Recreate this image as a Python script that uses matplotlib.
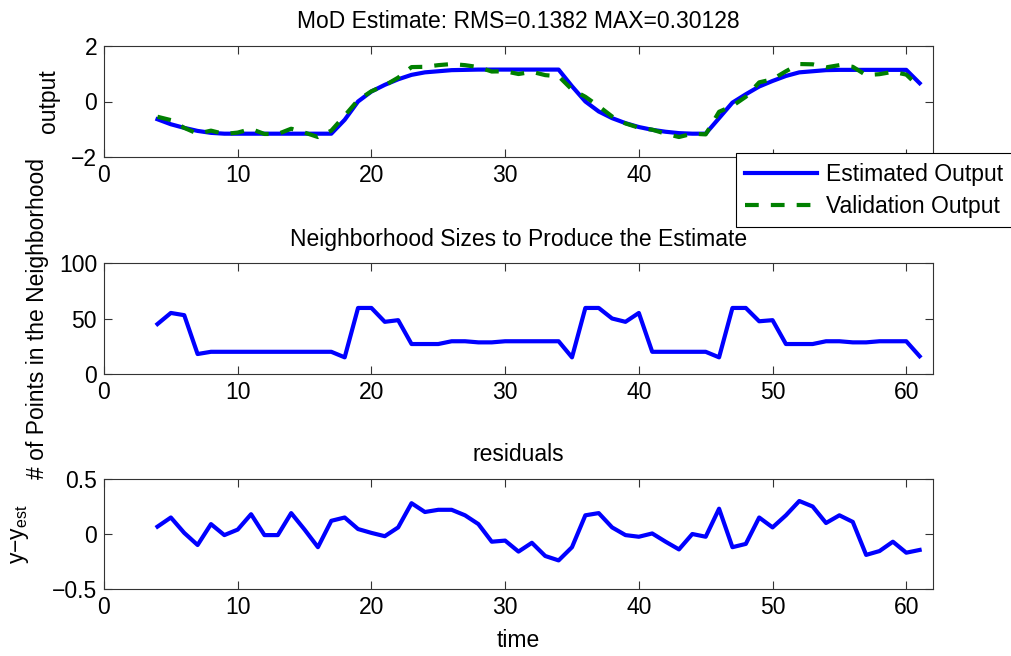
import matplotlib
matplotlib.use("Agg")
import matplotlib.pyplot as plt
import numpy as np

plt.rcParams['font.family'] = ['Liberation Sans', 'DejaVu Sans']
plt.rcParams['mathtext.fontset'] = 'custom'
plt.rcParams['mathtext.rm'] = 'Liberation Sans'
plt.rcParams['mathtext.it'] = 'Liberation Sans'

time = list(range(4, 62))

estimated_output = [-0.64, -0.82, -0.95, -1.06, -1.13, -1.16, -1.16, -1.16, -1.16, -1.16,
                    -1.16, -1.16, -1.16, -1.16, -0.66, 0.0, 0.36, 0.6, 0.8, 0.96,
                    1.05, 1.09, 1.13, 1.14, 1.15, 1.15, 1.15, 1.15, 1.15, 1.15,
                    1.15, 0.55, 0.0, -0.36, -0.6, -0.78, -0.92, -1.02, -1.09, -1.14,
                    -1.16, -1.16, -0.6, -0.04, 0.26, 0.54, 0.74, 0.92, 1.05, 1.09,
                    1.13, 1.14, 1.14, 1.14, 1.14, 1.14, 1.14, 0.66]

validation_output = [-0.55, -0.67, -0.95, -1.16, -1.05, -1.17, -1.12, -0.99, -1.17, -1.17,
                     -0.98, -1.12, -1.28, -1.05, -0.51, 0.05, 0.37, 0.58, 0.86, 1.24,
                     1.25, 1.31, 1.35, 1.31, 1.24, 1.08, 1.09, 0.99, 1.07, 0.95,
                     0.91, 0.43, 0.17, -0.17, -0.54, -0.79, -0.945, -1.015, -1.16, -1.28,
                     -1.16, -1.185, -0.37, -0.16, 0.17, 0.69, 0.80, 1.09, 1.35, 1.34,
                     1.23, 1.31, 1.25, 0.95, 0.985, 1.07, 0.97, 0.515]

neighborhood_size = [45, 55, 53, 18, 20, 20, 20, 20, 20, 20,
                     20, 20, 20, 20, 15, 59.5, 59.5, 47, 48.5, 27,
                     27, 27, 29.5, 29.5, 28.5, 28.5, 29.5, 29.5, 29.5, 29.5,
                     29.5, 15, 59.5, 59.5, 50, 47, 55, 20, 20, 20,
                     20, 20, 15, 59.5, 59.5, 47.5, 48.5, 27, 27, 27,
                     29.5, 29.5, 28.5, 28.5, 29.5, 29.5, 29.5, 16]

residuals = [0.067, 0.15, 0.01, -0.10, 0.09, -0.01, 0.04, 0.18, -0.01, -0.01,
             0.19, 0.04, -0.12, 0.12, 0.15, 0.045, 0.01, -0.02, 0.06, 0.28,
             0.2, 0.22, 0.22, 0.17, 0.09, -0.07, -0.06, -0.16, -0.08, -0.2,
             -0.24, -0.12, 0.17, 0.19, 0.06, -0.01, -0.025, 0.005, -0.07, -0.14,
             0.0, -0.025, 0.23, -0.12, -0.09, 0.15, 0.06, 0.17, 0.30, 0.25,
             0.10, 0.17, 0.11, -0.19, -0.155, -0.07, -0.17, -0.145]

title_top = "MoD Estimate: RMS=0.1382 MAX=0.30128"
title_mid = "Neighborhood Sizes to Produce the Estimate"
title_bot = "residuals"

FS = 16.5
W, H = 1011, 656
fig = plt.figure(figsize=(W / 100, H / 100), dpi=100)

def ax_at(left, top, right, bottom):
    return fig.add_axes([left / W, 1 - bottom / H, (right - left) / W, (bottom - top) / H])

ax1 = ax_at(104, 46, 933, 157)
ax2 = ax_at(104, 263, 933, 374)
ax3 = ax_at(104, 479, 933, 589)

blue = '#0000ff'
green = '#008000'
lw = 3.0

l1, = ax1.plot(time, estimated_output, color=blue, lw=lw, label='Estimated Output')
l2, = ax1.plot(time, validation_output, color=green, lw=lw, ls=(0, (3.3, 2.9)), label='Validation Output')
ax1.set_ylim(-2, 2)
ax1.set_yticks([-2, 0, 2])
ax1.set_yticklabels(['\u22122', '0', '2'])
ax1.set_title(title_top, fontsize=FS, pad=13)

ax2.plot(time, neighborhood_size, color=blue, lw=lw)
ax2.set_ylim(0, 100)
ax2.set_yticks([0, 50, 100])
ax2.set_title(title_mid, fontsize=FS, pad=12.5)

ax3.plot(time, residuals, color=blue, lw=lw)
ax3.set_ylim(-0.5, 0.5)
ax3.set_yticks([-0.5, 0, 0.5])
ax3.set_yticklabels(['\u22120.5', '0', '0.5'])
ax3.set_title(title_bot, fontsize=FS, pad=13)
ax3.set_xlabel('time', fontsize=FS, labelpad=7.5)

for ax in (ax1, ax2, ax3):
    ax.set_xlim(0, 62)
    ax.set_xticks([0, 10, 20, 30, 40, 50, 60])
    ax.tick_params(direction='in', top=True, right=True, length=6, width=0.8,
                   labelsize=FS, pad=5, color='#333333')
    for s in ax.spines.values():
        s.set_linewidth(0.8)
        s.set_color('#333333')

ax1.set_ylabel('output', fontsize=FS, labelpad=8)
ax2.set_ylabel('# of Points in the Neighborhood', fontsize=FS, labelpad=7)
ax3.set_ylabel('y\u2212y$_{\\mathregular{est}}$', fontsize=FS, labelpad=15)

leg = fig.legend(handles=[l1, l2], loc='upper left', bbox_to_anchor=(735.5 / W, 1 - 153.5 / H),
                 fontsize=FS, frameon=True, fancybox=False, framealpha=1.0, borderpad=0.4,
                 handlelength=3.15, handletextpad=0.4, labelspacing=0.4, borderaxespad=0)
leg.get_frame().set_edgecolor('black')
leg.get_frame().set_linewidth(0.8)
leg.set_zorder(10)

fig.savefig('out.png', dpi=100, facecolor='white')
